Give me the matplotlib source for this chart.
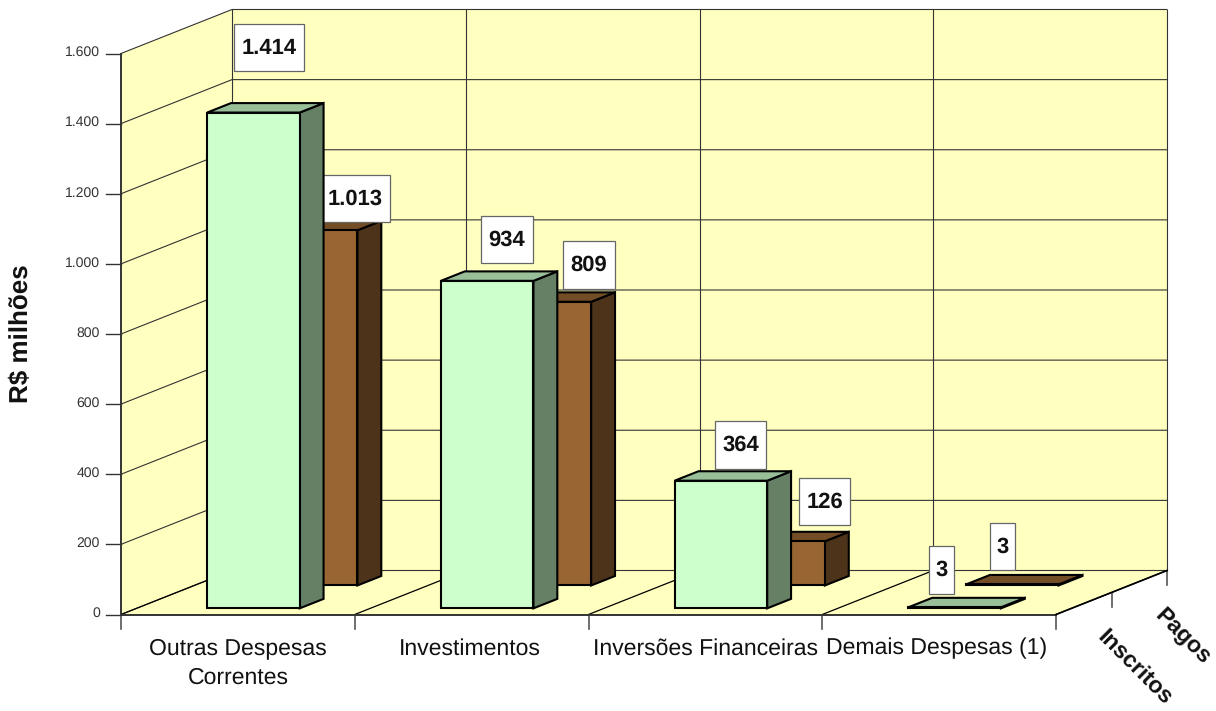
import matplotlib
matplotlib.use("Agg")
import matplotlib.pyplot as plt
from matplotlib.patches import Polygon, Rectangle

plt.rcParams['font.family'] = ['Liberation Sans', 'DejaVu Sans']
plt.rcParams['text.hinting'] = 'no_hinting'
plt.rcParams['text.hinting_factor'] = 1

# data
categories = ["Outras Despesas\nCorrentes", "Investimentos", "Inversões Financeiras", "Demais Despesas (1)"]
series_names = ["Inscritos", "Pagos"]
inscritos = [1414, 934, 364, 3]
pagos = [1013, 809, 126, 3]
inscritos_labels = ["1.414", "934", "364", "3"]
pagos_labels = ["1.013", "809", "126", "3"]
y_ticks = [0, 200, 400, 600, 800, 1000, 1200, 1400, 1600]
y_tick_labels = ["0", "200", "400", "600", "800", "1.000", "1.200", "1.400", "1.600"]
y_title = "R$ milhões"

# oblique projection of the fake 3d box, everything in figure pixels
X0, Y0 = 121, 614.5
CAT_W = 233.75
PX_PER_UNIT = 561 / 1600
DEPTH_X, DEPTH_Y = 55.5, -22

BAR_W = 0.396
BAR_DEPTH = 0.43
SERIES_Z = [0.28, 1.32]

# label boxes (left, top, width, height), placed by hand like in the original
inscritos_boxes = [(234, 24, 70, 47), (481, 216, 52, 47), (715, 421, 51, 48), (929, 546, 25, 48)]
pagos_boxes = [(320, 175, 70, 47), (563, 241, 52, 48), (799, 478, 51, 47), (990, 523, 25, 47)]
cat_label_x = [238, 469.5, 706, 937]

GRID = '#333333'
WALL = '#FFFFC0'


def project(x, value, z):
    return (X0 + x * CAT_W + z * DEPTH_X, Y0 - value * PX_PER_UNIT + z * DEPTH_Y)


def shade(color, f):
    rgb = matplotlib.colors.to_rgb(color)
    return tuple(c * f for c in rgb)


def draw_bar(ax, cat, value, z, color, zorder):
    x1 = cat + (1 - BAR_W) / 2
    x2 = x1 + BAR_W
    z2 = z + BAR_DEPTH
    front = [project(x1, 0, z), project(x2, 0, z), project(x2, value, z), project(x1, value, z)]
    side = [project(x2, 0, z), project(x2, 0, z2), project(x2, value, z2), project(x2, value, z)]
    top = [project(x1, value, z), project(x2, value, z), project(x2, value, z2), project(x1, value, z2)]
    for pts, col in [(side, shade(color, 0.5)), (top, shade(color, 0.75)), (front, color)]:
        ax.add_patch(Polygon(pts, closed=True, facecolor=col, edgecolor='black', linewidth=1.5,
                             joinstyle='miter', zorder=zorder))


def draw_label(ax, box, text, zorder):
    left, top, w, h = box
    ax.add_patch(Rectangle((left, top), w, h, facecolor='white', edgecolor='#666666', linewidth=0.9, zorder=zorder))
    ax.text(left + w / 2, top + h / 2 + 0.5, text, ha='center', va='center', fontsize=15.5,
            fontweight='bold', color='#111111', zorder=zorder + 0.1)


fig = plt.figure(figsize=(12.16, 7.11), dpi=100)
ax = fig.add_axes([0, 0, 1, 1])
ax.set_xlim(0, 1216)
ax.set_ylim(711, 0)
ax.axis('off')

n = len(categories)
top_val = y_ticks[-1]

# walls and floor
ax.add_patch(Polygon([project(0, 0, 0), project(0, 0, 2), project(0, top_val, 2), project(0, top_val, 0)],
                     facecolor=WALL, edgecolor='none', zorder=1))
ax.add_patch(Polygon([project(0, 0, 2), project(n, 0, 2), project(n, top_val, 2), project(0, top_val, 2)],
                     facecolor=WALL, edgecolor='none', zorder=1))
ax.add_patch(Polygon([project(0, 0, 0), project(n, 0, 0), project(n, 0, 2), project(0, 0, 2)],
                     facecolor=WALL, edgecolor='none', zorder=1))

# horizontal grid on back and left wall, with ticks
for v, lab in zip(y_ticks, y_tick_labels):
    p0, p1, p2 = project(0, v, 0), project(0, v, 2), project(n, v, 2)
    ax.plot([p0[0], p1[0], p2[0]], [p0[1], p1[1], p2[1]], color=GRID, lw=0.8, zorder=2)
    ax.plot([p0[0] - 15, p0[0]], [p0[1], p0[1]], color=GRID, lw=1.0, zorder=2)
    ax.text(p0[0] - 21, p0[1] - 1, lab, ha='right', va='center', fontsize=10, color='#333333')

# vertical grid on back wall + floor lines
for i in range(n + 1):
    p0, p1, p2 = project(i, 0, 0), project(i, 0, 2), project(i, top_val, 2)
    ax.plot([p1[0], p2[0]], [p1[1], p2[1]], color=GRID, lw=0.8, zorder=2)
    ax.plot([p0[0], p1[0]], [p0[1], p1[1]], color='black', lw=0.9, zorder=2)
    ax.plot([p0[0], p0[0]], [p0[1], p0[1] + 14], color='#555555', lw=1.2, zorder=2)

# outer frame
ax.plot(*zip(project(0, 0, 0), project(0, top_val, 0)), color='#333333', lw=1.4, zorder=3)
ax.plot(*zip(project(0, 0, 0), project(n, 0, 0)), color='#333333', lw=1.4, zorder=3)
ax.plot(*zip(project(n, 0, 0), project(n, 0, 2)), color='black', lw=1.2, zorder=3)

# depth axis ticks
for z in [1, 2]:
    p = project(n, 0, z)
    ax.plot([p[0], p[0]], [p[1], p[1] + 14], color='#555555', lw=1.2, zorder=2)

# back series first, then labels, then the front bars cover them
for i in range(n):
    draw_bar(ax, i, pagos[i], SERIES_Z[1], '#996633', 4)
    draw_label(ax, pagos_boxes[i], pagos_labels[i], 5)
for i in range(n):
    draw_bar(ax, i, inscritos[i], SERIES_Z[0], '#CCFFCC', 6)
    draw_label(ax, inscritos_boxes[i], inscritos_labels[i], 7)

# axis labels
for x, lab in zip(cat_label_x, categories):
    ax.text(x, 638, lab, ha='center', va='top', fontsize=16.8, color='#111111', linespacing=1.45)
ax.text(21, 334, y_title, rotation=90, ha='center', va='center', fontsize=19, fontweight='bold', color='#111111')
ax.text(1135, 668, series_names[0], rotation=-45, rotation_mode='anchor', ha='center', va='center',
        fontsize=16.5, fontweight='bold', color='#111111')
ax.text(1182, 637, series_names[1], rotation=-45, rotation_mode='anchor', ha='center', va='center',
        fontsize=16.5, fontweight='bold', color='#111111')

fig.savefig('out.png', dpi=100)
